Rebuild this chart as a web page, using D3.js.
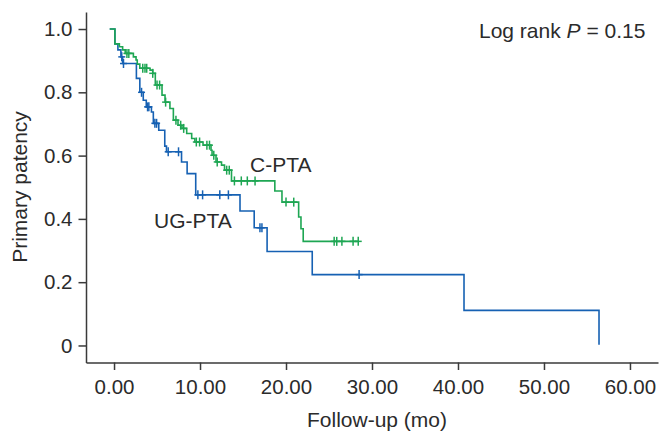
<!DOCTYPE html>
<html>
<head>
<meta charset="utf-8">
<script src="https://cdn.jsdelivr.net/npm/d3@7"></script>
<style>
  body { margin: 0; background: #fff; }
  text { font-family: Arial, "Liberation Sans", sans-serif; fill: #2b2b2b; }
</style>
</head>
<body>
<div class="chart"></div>
<script>
// C-PTA (green): event times and survival after each drop
var cTime = [0.1, 0.62, 1.0, 1.3, 2.25, 2.56, 2.7, 3.0, 4.19, 4.5, 4.8, 5.58, 5.93, 6.5, 6.9, 7.44, 7.9, 8.45, 9.03, 9.4,
             10.35, 11.28, 11.4, 11.86, 12.5, 12.85, 13.66, 18.7, 19.53, 21.47, 21.74, 22.0];
var cSurv = [0.953, 0.944, 0.934, 0.923, 0.912, 0.902, 0.889, 0.876, 0.870, 0.860, 0.823, 0.791, 0.769, 0.749, 0.712, 0.696, 0.686, 0.670, 0.654, 0.643,
             0.633, 0.617, 0.601, 0.580, 0.570, 0.554, 0.520, 0.488, 0.453, 0.406, 0.369, 0.329];
var cCensor = [1.5, 1.72, 3.34, 3.6, 3.8, 4.5, 5.0, 5.3, 6.0, 7.2, 7.75, 8.1, 9.57, 9.95, 10.8, 11.1, 11.6, 12.0, 13.1, 13.4,
               14.0, 14.8, 15.5, 16.4, 20.0, 20.9, 25.6, 25.9, 26.5, 27.8, 28.4];

// UG-PTA (blue)
var uTime = [0.1, 0.45, 0.8, 1.0, 2.6, 3.0, 3.4, 3.75, 4.35, 4.57, 5.2, 5.9, 6.1, 7.85, 8.5, 9.5, 14.65, 16.3, 17.8, 23.05, 40.7, 56.4];
var uSurv = [0.953, 0.934, 0.912, 0.891, 0.844, 0.80, 0.775, 0.754, 0.738, 0.702, 0.68, 0.630, 0.612, 0.580, 0.543, 0.476, 0.425, 0.372, 0.297, 0.224, 0.111, 0.002];
var uCensor = [0.9, 1.1, 3.2, 3.9, 4.05, 4.75, 4.95, 6.3, 7.5, 9.75, 10.3, 12.3, 13.3, 16.97, 17.2, 28.5];

var xTicks = [0, 10, 20, 30, 40, 50, 60];
var yTicks = [0, 0.2, 0.4, 0.6, 0.8, 1.0];

var width = 660, height = 433;
var green = "#1ea653", blue = "#1661b3";

var svg = d3.select(".chart").append("svg")
    .attr("width", width)
    .attr("height", height);

var x = d3.scaleLinear().domain([-3.26, 63.26]).range([86, 658]);
var y = d3.scaleLinear().domain([-0.0538, 1.0538]).range([362.5, 12]);

// axes
var xAxis = d3.axisBottom(x).tickValues(xTicks).tickFormat(d3.format(".2f"))
    .tickSize(7.5).tickSizeOuter(0).tickPadding(9);
var yAxis = d3.axisLeft(y).tickValues(yTicks).tickFormat(function(d){ return d === 0 ? "0" : d3.format(".1f")(d); })
    .tickSize(7.5).tickSizeOuter(0).tickPadding(6);

var gx = svg.append("g").attr("transform", "translate(0,362.5)").call(xAxis);
var gy = svg.append("g").attr("transform", "translate(86,0)").call(yAxis);
[gx, gy].forEach(function(g){
  g.selectAll("path, line").attr("stroke", "#3a3a3a").attr("stroke-width", 1.5);
  g.selectAll("text").style("font-size", "20.5px").attr("fill", "#2b2b2b");
});

// step curves
var line = d3.line()
    .x(function(d){ return x(d[0]); })
    .y(function(d){ return y(d[1]); })
    .curve(d3.curveStepAfter);

function stepAt(times, surv, t) {
  var s = 1;
  for (var i = 0; i < times.length; i++) { if (times[i] <= t) s = surv[i]; }
  return s;
}

function drawCurve(times, surv, censor, endT, color) {
  var pts = [[-0.5, 1]];
  times.forEach(function(t, i){ pts.push([t, surv[i]]); });
  pts.push([endT, surv[surv.length - 1]]);
  svg.append("path")
    .attr("d", line(pts))
    .attr("fill", "none")
    .attr("stroke", color)
    .attr("stroke-width", 1.6);

  var g = svg.append("g").attr("stroke", color).attr("stroke-width", 1.5);
  censor.forEach(function(t){
    var cx = x(t), cy = y(stepAt(times, surv, t));
    g.append("line").attr("x1", cx).attr("x2", cx).attr("y1", cy - 4.5).attr("y2", cy + 4.5);
    g.append("line").attr("x1", cx - 3.5).attr("x2", cx + 3.5).attr("y1", cy).attr("y2", cy);
  });
}

drawCurve(uTime, uSurv, uCensor, 56.4, blue);
drawCurve(cTime, cSurv, cCensor, 28.4, green);

// labels
svg.append("text").attr("x", 250).attr("y", 171.5).style("font-size", "21px").text("C-PTA");
svg.append("text").attr("x", 154).attr("y", 227.5).style("font-size", "21px").text("UG-PTA");

var lr = svg.append("text").attr("x", 479).attr("y", 38).style("font-size", "21px");
lr.append("tspan").text("Log rank ");
lr.append("tspan").style("font-style", "italic").text("P");
lr.append("tspan").text(" = 0.15");

svg.append("text")
    .attr("x", 377).attr("y", 426.5)
    .attr("text-anchor", "middle")
    .style("font-size", "21px")
    .text("Follow-up (mo)");

svg.append("text")
    .attr("transform", "translate(26.5,187) rotate(-90)")
    .attr("text-anchor", "middle")
    .style("font-size", "21px")
    .text("Primary patency");
</script>
</body>
</html>
